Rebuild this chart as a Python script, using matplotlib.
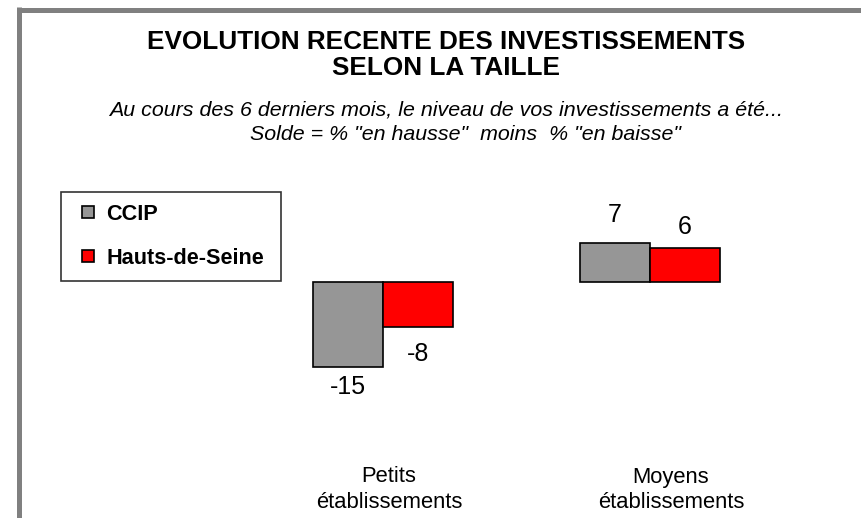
import matplotlib.pyplot as plt
from matplotlib.lines import Line2D
import matplotlib.transforms as mtransforms
import numpy as np

plt.rcParams['font.family'] = ['Liberation Sans', 'DejaVu Sans']

categories = ['Petits\nétablissements', 'Moyens\nétablissements']
series = ['CCIP', 'Hauts-de-Seine']
ccip = [-15, 7]
hauts_de_seine = [-8, 6]
colors = ['#969696', '#ff0000']

fig = plt.figure(figsize=(8.61, 5.18), dpi=100)
W, H = 861, 518

# cadre gris en haut et a gauche
fig.add_artist(Line2D([19 / W, 19 / W], [0, 1 - 7 / H], color='#808080', lw=3.6,
                      transform=fig.transFigure, solid_capstyle='butt'))
fig.add_artist(Line2D([17 / W, 1], [1 - 9.5 / H, 1 - 9.5 / H], color='#808080', lw=3.6,
                      transform=fig.transFigure, solid_capstyle='butt'))

# titres
fig.text(446 / W, 1 - 42 / H, 'EVOLUTION RECENTE DES INVESTISSEMENTS', ha='center', va='center',
         fontsize=18.8, fontweight='bold')
fig.text(446 / W, 1 - 68 / H, 'SELON LA TAILLE', ha='center', va='center',
         fontsize=18.8, fontweight='bold')
fig.text(446 / W, 1 - 110 / H, 'Au cours des 6 derniers mois, le niveau de vos investissements a été...',
         ha='center', va='center', fontsize=15.4, style='italic')
fig.text(465 / W, 1 - 135 / H, 'Solde = % "en hausse"  moins  % "en baisse"',
         ha='center', va='center', fontsize=15.4, style='italic')

# axes : zero a y=282 px, 5.65 px par unite ; categories a 383 et 650 px
ax = fig.add_axes([100 / W, 78 / H, 760 / W, 290 / H])
ax.set_xlim(-1.06, 1.787)
ax.set_ylim(-28, 23.4)
ax.axis('off')

x = np.arange(len(categories))
w = 0.262
b1 = ax.bar(x - w / 2, ccip, w, color=colors[0], edgecolor='black', linewidth=1.2, label=series[0])
b2 = ax.bar(x + w / 2, hauts_de_seine, w, color=colors[1], edgecolor='black', linewidth=1.2, label=series[1])

# decalage des etiquettes (points) comme dans l'original
offsets = [[-15, 20], [-19, 15]]
for bars, vals, offs in [(b1, ccip, offsets[0]), (b2, hauts_de_seine, offsets[1])]:
    for bar, v, off in zip(bars, vals, offs):
        ax.annotate(str(v), (bar.get_x() + bar.get_width() / 2, v), xytext=(0, off),
                    textcoords='offset points', ha='center', va='center', fontsize=18)

# etiquettes des categories
trans = mtransforms.blended_transform_factory(ax.transData, fig.transFigure)
label_x = [0.022, 1.079]
for lx, cat in zip(label_x, categories):
    for j, line in enumerate(cat.split('\n')):
        ax.text(lx, 1 - (477 + 25 * j) / H, line, transform=trans, ha='center', va='center',
                fontsize=15.8, clip_on=False)

handles = [plt.Line2D([], [], marker='s', ls='', markersize=8, markerfacecolor=c,
                      markeredgecolor='black', markeredgewidth=1.2) for c in colors]
leg = fig.legend(handles, series, loc='upper left', bbox_to_anchor=(61 / W, 1 - 192 / H, 220 / W, 0),
                 mode='expand', frameon=True, fancybox=False, edgecolor='black',
                 prop={'weight': 'bold', 'size': 15.6},
                 handlelength=1.4, handletextpad=0.15, labelspacing=1.05, borderpad=0.55,
                 borderaxespad=0)
leg.get_frame().set_linewidth(1.2)

fig.savefig('out.png', dpi=100)
